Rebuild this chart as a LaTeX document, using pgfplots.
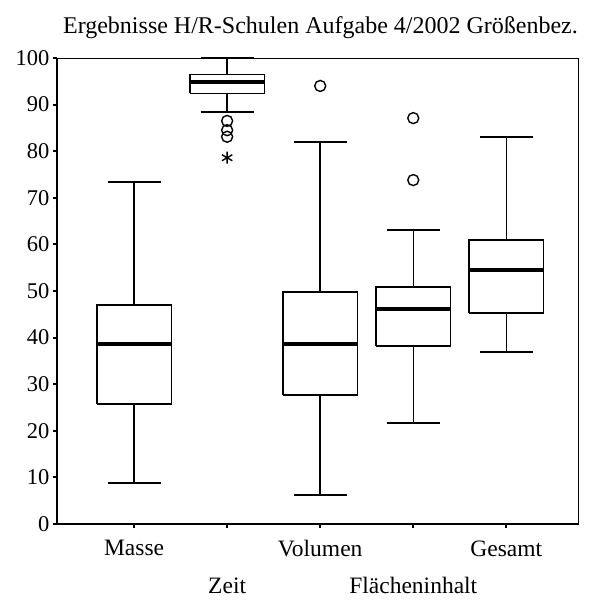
\documentclass[border=0pt]{standalone}
\usepackage{pgfplots}
\pgfplotsset{compat=1.18}
\usepackage{fontspec}
\setmainfont{Liberation Serif}
\pgfplotsset{
  bxline/.style={black, line width=1.5pt, line join=miter, mark=none, forget plot},
  medline/.style={black, line width=4.5pt, line cap=butt, mark=none, forget plot},
  outl/.style={black, only marks, mark=o, mark size=5.5pt, mark options={line width=1.4pt}},
}
\begin{document}
\begin{tikzpicture}
\begin{axis}[name=ax, scale only axis, width=521pt, height=466pt,
  xmin=0.172, xmax=5.77, ymin=0, ymax=100,
  ytick={0,10,...,100},
  xtick={1,3,5}, xticklabels={Masse,Volumen,Gesamt},
  extra x ticks={2,4}, extra x tick labels={Zeit,Flächeninhalt},
  xticklabel style={yshift=-9pt},
  extra x tick style={xticklabel style={yshift=-37pt}},
  tick align=outside, major tick length=4pt,
  tick style={line width=2pt, black},
  xtick pos=bottom, ytick pos=left,
  axis line style={line width=0.9pt},
  yticklabel style={font=\fontsize{22.5}{26}\selectfont},
  xticklabel style={font=\fontsize{23.5}{27}\selectfont},
  /pgf/number format/assume math mode=true,
  title={Ergebnisse H/R-Schulen Aufgabe 4/2002 Größenbez.},
  title style={font=\fontsize{24}{28}\selectfont, at={(0.5,1)}, anchor=base, yshift=18pt, xshift=3pt},
  clip=false,
  after end axis/.code={\draw[line width=2pt] (rel axis cs:0,1) -- (rel axis cs:0,0) -- (rel axis cs:1,0);},
]
% ---------- Masse (pos 1): lw 8.8, q1 25.8, med 38.6, q3 47.0, uw 73.4
\addplot[bxline] coordinates {(0.6,25.8) (1.4,25.8) (1.4,47.0) (0.6,47.0) (0.6,25.8)};
\addplot[bxline] coordinates {(1,47.0) (1,73.4)};
\addplot[bxline] coordinates {(0.715,73.4) (1.285,73.4)};
\addplot[bxline] coordinates {(1,25.8) (1,8.8)};
\addplot[bxline] coordinates {(0.715,8.8) (1.285,8.8)};
\addplot[medline] coordinates {(0.6,38.6) (1.4,38.6)};
% ---------- Zeit (pos 2): lw 88.4, q1 92.4, med 94.8, q3 96.5, uw 100
\addplot[bxline] coordinates {(1.6,92.4) (2.4,92.4) (2.4,96.5) (1.6,96.5) (1.6,92.4)};
\addplot[bxline] coordinates {(2,96.5) (2,100)};
\addplot[bxline] coordinates {(1.715,100) (2.285,100)};
\addplot[bxline] coordinates {(2,92.4) (2,88.4)};
\addplot[bxline] coordinates {(1.715,88.4) (2.285,88.4)};
\addplot[medline] coordinates {(1.6,94.8) (2.4,94.8)};
\addplot[outl] coordinates {(2,86.5) (2,84.5) (2,83.1)};
\addplot[black, only marks, mark=asterisk, mark size=6pt, mark options={line width=1.4pt}] coordinates {(2,78.6)};
% ---------- Volumen (pos 3): lw 6.2, q1 27.7, med 38.6, q3 49.8, uw 82.0
\addplot[bxline] coordinates {(2.6,27.7) (3.4,27.7) (3.4,49.8) (2.6,49.8) (2.6,27.7)};
\addplot[bxline] coordinates {(3,49.8) (3,82.0)};
\addplot[bxline] coordinates {(2.715,82.0) (3.285,82.0)};
\addplot[bxline] coordinates {(3,27.7) (3,6.2)};
\addplot[bxline] coordinates {(2.715,6.2) (3.285,6.2)};
\addplot[medline] coordinates {(2.6,38.6) (3.4,38.6)};
\addplot[outl] coordinates {(3,94.0)};
% ---------- Flaecheninhalt (pos 4): lw 21.7, q1 38.2, med 46.1, q3 50.9, uw 63.1
\addplot[bxline] coordinates {(3.6,38.2) (4.4,38.2) (4.4,50.9) (3.6,50.9) (3.6,38.2)};
\addplot[bxline] coordinates {(4,50.9) (4,63.1)};
\addplot[bxline] coordinates {(3.715,63.1) (4.285,63.1)};
\addplot[bxline] coordinates {(4,38.2) (4,21.7)};
\addplot[bxline] coordinates {(3.715,21.7) (4.285,21.7)};
\addplot[medline] coordinates {(3.6,46.1) (4.4,46.1)};
\addplot[outl] coordinates {(4,87.1) (4,73.8)};
% ---------- Gesamt (pos 5): lw 36.9, q1 45.3, med 54.5, q3 60.9, uw 83.0
\addplot[bxline] coordinates {(4.6,45.3) (5.4,45.3) (5.4,60.9) (4.6,60.9) (4.6,45.3)};
\addplot[bxline] coordinates {(5,60.9) (5,83.0)};
\addplot[bxline] coordinates {(4.715,83.0) (5.285,83.0)};
\addplot[bxline] coordinates {(5,45.3) (5,36.9)};
\addplot[bxline] coordinates {(4.715,36.9) (5.285,36.9)};
\addplot[medline] coordinates {(4.6,54.5) (5.4,54.5)};
\end{axis}
\pgfresetboundingbox
\path ([shift={(-57pt,-77pt)}]ax.south west) rectangle ([shift={(11pt,58pt)}]ax.north east);
\end{tikzpicture}
\end{document}
